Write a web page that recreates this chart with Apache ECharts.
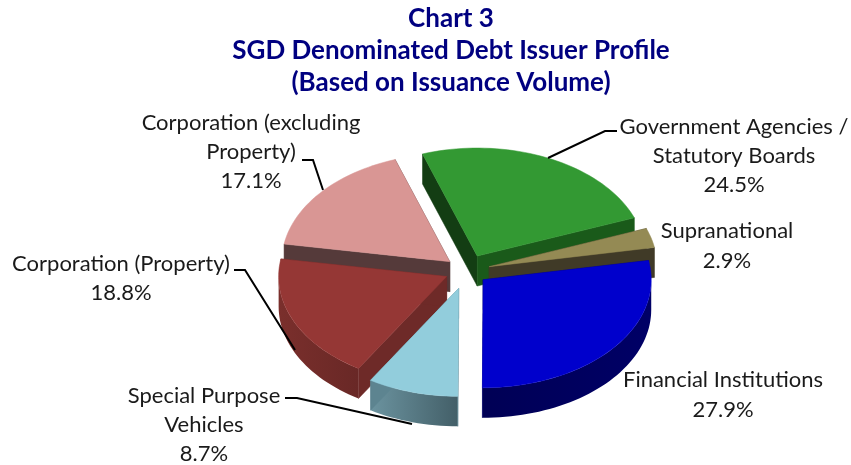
<!DOCTYPE html>
<html><head><meta charset="utf-8">
<style>html,body{margin:0;background:#fff}#c{width:851px;height:465px}</style>
<script src="https://cdn.jsdelivr.net/npm/echarts@6/dist/echarts.min.js"></script>
</head><body><div id="c"></div>
<script>
const categories = ['Government Agencies /\nStatutory Boards','Supranational','Financial Institutions','Special Purpose\nVehicles','Corporation (Property)','Corporation (excluding\nProperty)'];
const shares = [24.5, 2.9, 27.9, 8.7, 18.8, 17.1];
const titleLines = ['Chart 3','SGD Denominated Debt Issuer Profile','(Based on Issuance Volume)'];

// drawing style
const topColors  = ['#339933','#948a54','#0000cc','#92cddc','#953735','#d99694'];
const startWalls = ['#133d13','#403a27','#000066','#5d8490','#6e2a28','#553a3a'];
const endWalls   = ['#1a5a1a','#403a27','#000066','#5d8490','#6e2a28','#553a3a'];
const rimColors  = [['#1a5a1a','#1a5a1a'],['#403a27','#403a27'],['#000055','#000066'],['#6b939f','#435f68'],['#7a2f2c','#692826'],['#553a3a','#553a3a']];
const explode    = [0.15,0.14,0.13,0.17,0.13,0.13];
const paintOrder = [0,2,5,4,3,1]; // z-order of each slice (back to front)
const labelAt = [[734,156],[727,246],[723,395],[204,425],[121,278.5],[251,152]];
const leaders = [
  [[617,131],[605,131],[548,158]],
  null,null,
  [[285,398],[297,398],[412,424]],
  [[234,270],[245,270],[295,350]],
  [[302,160],[313,160],[323,190]]
];
const CX=466.5, CY=270.7, RX=168, RY=108, DEPTH=30, START=-19;
const total = shares.reduce((a,b)=>a+b,0);
const rad = d=>d*Math.PI/180;
const onRim=(x,y,t)=>[x+RX*Math.sin(rad(t)), y-RY*Math.cos(rad(t))];

function renderItem(params, api){
  const i=params.dataIndex, v=api.value(0);
  let before=0; for(let k=0;k<i;k++) before+=shares[k];
  const a0=START+before/total*360, a1=a0+v/total*360, mid=(a0+a1)/2;
  const [ax,ay]=[CX+explode[i]*RX*Math.sin(rad(mid)), CY-explode[i]*RY*Math.cos(rad(mid))];
  const z=paintOrder[i]*10;
  const arc=(from,to)=>{const n=Math.max(2,Math.ceil(Math.abs(to-from)/2)),p=[];
    for(let s=0;s<=n;s++)p.push(onRim(ax,ay,from+(to-from)*s/n));return p;};
  const kids=[];
  const poly=(pts,fill,zz)=>kids.push({type:'polygon',z2:z+zz,shape:{points:pts},
    style:{fill:fill,stroke:typeof fill==='string'?fill:null,lineWidth:0.5}});
  // outer rim, only where it faces the viewer
  const r0=Math.max(a0,90), r1=Math.min(a1,270);
  if(r1>r0){
    const upper=arc(r0,r1), lower=upper.slice().reverse().map(p=>[p[0],p[1]+DEPTH]);
    const xs=upper.map(p=>p[0]), lo=Math.min(...xs), hi=Math.max(...xs);
    poly(upper.concat(lower), new echarts.graphic.LinearGradient(lo,0,hi,0,[
      {offset:0,color:rimColors[i][0]},{offset:1,color:rimColors[i][1]}],true),0);
  }
  // radial walls
  [[a0,startWalls[i]],[a1,endWalls[i]]].forEach(([a,c])=>{
    const e=onRim(ax,ay,a);
    poly([[ax,ay],e,[e[0],e[1]+DEPTH],[ax,ay+DEPTH]],c,1);
  });
  // top face
  poly([[ax,ay]].concat(arc(a0,a1)),topColors[i],2);
  // leader
  if(leaders[i]) kids.push({type:'polyline',z2:200,shape:{points:leaders[i]},
    style:{fill:null,stroke:'#000',lineWidth:2}});
  // label
  kids.push({type:'text',z2:201,x:labelAt[i][0],y:labelAt[i][1],
    style:{text:categories[i]+'\n'+v.toFixed(1)+'%',font:'22px Lato, "Open Sans", sans-serif',
      lineHeight:29.3,fill:'#1a1a1a',align:'center',verticalAlign:'middle'}});
  return {type:'group',children:kids};
}
const chart=echarts.init(document.getElementById('c'),null,{renderer:'canvas'});
chart.setOption({
  animation:false,
  backgroundColor:'#fff',
  title:{text:titleLines.join('\n'),left:446,top:-2,textAlign:'center',
    textStyle:{color:'#000080',fontFamily:'Lato',fontWeight:'bold',fontSize:26,lineHeight:32}},
  series:[{type:'custom',coordinateSystem:'none',renderItem:renderItem,
    data:shares.map((v,i)=>({value:[v],name:categories[i]}))}]
});
</script></body></html>
